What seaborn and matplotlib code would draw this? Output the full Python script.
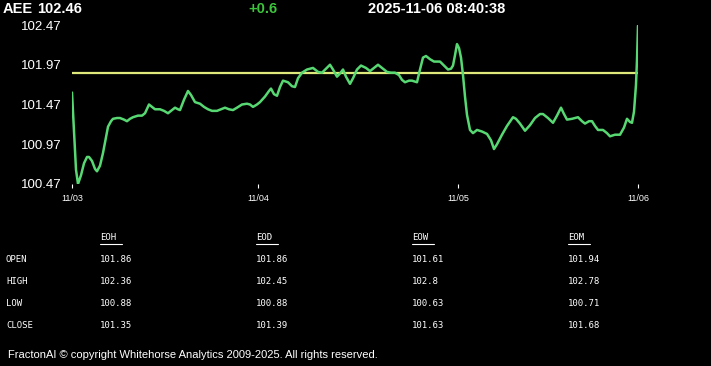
import matplotlib
matplotlib.use("Agg")
import matplotlib.pyplot as plt
import seaborn as sns
from matplotlib.lines import Line2D

# header
symbol = "AEE"
last_price = "102.46"
change = "+0.6"
stamp = "2025-11-06 08:40:38"

# price series (bar index, price)
bar = [0, 4, 6, 9, 12, 15, 17, 20, 23, 25, 28, 31, 34, 36, 39, 41, 45, 48, 52, 55,
       58, 61, 66, 70, 73, 77, 80, 83, 88, 92, 96, 100, 103, 106, 108, 112, 116, 119, 123, 128,
       132, 136, 140, 145, 149, 153, 157, 161, 165, 170, 175, 178, 181, 185, 188, 193, 197, 199, 202, 205,
       208, 211, 216, 220, 223, 226, 230, 235, 241, 246, 250, 254, 258, 261, 265, 268, 271, 274, 278, 281,
       285, 289, 294, 298, 302, 306, 310, 315, 319, 323, 327, 330, 333, 337, 340, 345, 348, 351, 354, 358,
       362, 365, 368, 372, 376, 379, 381, 383, 385, 387, 389, 391, 393, 395, 398, 401, 405, 410, 415, 419,
       422, 425, 430, 435, 441, 444, 448, 453, 458, 463, 468, 471, 476, 481, 485, 489, 492, 495, 500, 506,
       510, 513, 517, 520, 523, 526, 531, 535, 538, 543, 548, 552, 555, 558, 560, 562, 564, 565, 566]
price = [101.62, 100.65, 100.47, 100.58, 100.73, 100.81, 100.81, 100.76, 100.66, 100.63,
         100.70, 100.86, 101.06, 101.19, 101.26, 101.29, 101.30, 101.30, 101.28, 101.26,
         101.29, 101.31, 101.33, 101.33, 101.36, 101.47, 101.44, 101.41, 101.41, 101.39,
         101.36, 101.40, 101.43, 101.41, 101.40, 101.53, 101.64, 101.59, 101.50, 101.48,
         101.44, 101.41, 101.39, 101.39, 101.41, 101.43, 101.41, 101.40, 101.43, 101.47,
         101.48, 101.47, 101.44, 101.47, 101.50, 101.57, 101.64, 101.67, 101.60, 101.58,
         101.69, 101.77, 101.75, 101.70, 101.69, 101.80, 101.87, 101.91, 101.93, 101.88,
         101.87, 101.92, 101.97, 101.91, 101.82, 101.86, 101.91, 101.82, 101.73, 101.80,
         101.91, 101.96, 101.93, 101.89, 101.93, 101.97, 101.93, 101.88, 101.87, 101.87,
         101.84, 101.78, 101.75, 101.77, 101.77, 101.75, 101.91, 102.06, 102.08, 102.04,
         102.01, 102.01, 102.01, 101.96, 101.91, 101.92, 101.96, 102.09, 102.23, 102.18,
         102.06, 101.84, 101.57, 101.34, 101.15, 101.11, 101.15, 101.13, 101.10, 101.02,
         100.91, 100.97, 101.09, 101.20, 101.31, 101.29, 101.23, 101.14, 101.21, 101.30,
         101.35, 101.35, 101.30, 101.24, 101.33, 101.43, 101.35, 101.28, 101.29, 101.31,
         101.26, 101.23, 101.26, 101.26, 101.20, 101.15, 101.15, 101.11, 101.07, 101.09,
         101.09, 101.18, 101.29, 101.25, 101.24, 101.38, 101.72, 102.03, 102.46]

day_ticks = [0, 186, 386, 566]
day_labels = ["11/03", "11/04", "11/05", "11/06"]
y_ticks = [100.47, 100.97, 101.47, 101.97, 102.47]

# summary table
periods = ["EOH", "EOD", "EOW", "EOM"]
row_names = ["OPEN", "HIGH", "LOW", "CLOSE"]
open_vals = ["101.86", "101.86", "101.61", "101.94"]
high_vals = ["102.36", "102.45", "102.8", "102.78"]
low_vals = ["100.88", "100.88", "100.63", "100.71"]
close_vals = ["101.35", "101.39", "101.63", "101.68"]

sns.set_style("dark", {"axes.facecolor": "black", "figure.facecolor": "black"})
plt.rcParams["font.family"] = ["Liberation Sans", "DejaVu Sans"]

fig = plt.figure(figsize=(7.11, 3.66), dpi=100)
ax = fig.add_axes([72 / 711, 182 / 366, 566 / 711, 159 / 366])

sns.lineplot(x=bar, y=price, ax=ax, color="#57d873", linewidth=1.8)
ax.axhline(float(open_vals[0]), color="#dfe87a", linewidth=1.6, zorder=1)

ax.set_xlim(0, 566)
ax.set_ylim(100.47, 102.47)
ax.set_xticks(day_ticks)
ax.set_xticklabels(day_labels, fontsize=6.5, color="white")
ax.set_yticks(y_ticks)
ax.set_yticklabels([f"{v:.2f}" for v in y_ticks], fontsize=9.5, color="white")
ax.tick_params(axis="x", bottom=True, length=3, width=0.8, color="white", pad=4.5)
ax.tick_params(axis="y", left=False, pad=4)
ax.grid(False)
for s in ax.spines.values():
    s.set_visible(False)
ax.set_xlabel("")
ax.set_ylabel("")

# header line
fig.text(3 / 711, 1 - 9 / 366, symbol, color="white", fontsize=10.5, fontweight="bold", va="center")
fig.text(37 / 711, 1 - 9 / 366, last_price, color="white", fontsize=10.5, fontweight="bold", va="center")
fig.text(248 / 711, 1 - 9 / 366, change, color="#3cc43c", fontsize=10.5, fontweight="bold", va="center")
fig.text(368 / 711, 1 - 9 / 366, stamp, color="white", fontsize=10.5, fontweight="bold", va="center")

# table
col_x = [100, 256, 412, 568]
row_y = [259, 281, 303, 325]
mono = dict(family="DejaVu Sans Mono", fontsize=6.5, color="white", va="center")
for cx, name in zip(col_x, periods):
    fig.text(cx / 711, 1 - 238 / 366, name, **mono)
    fig.add_artist(Line2D([cx / 711, (cx + 22) / 711], [1 - 244 / 366] * 2, color="white", linewidth=0.8))
for ry, name, vals in zip(row_y, row_names, [open_vals, high_vals, low_vals, close_vals]):
    fig.text(6 / 711, 1 - ry / 366, name, **mono)
    for cx, v in zip(col_x, vals):
        fig.text(cx / 711, 1 - ry / 366, v, **mono)

fig.text(8 / 711, 1 - 355 / 366, "FractonAI \u00a9 copyright Whitehorse Analytics 2009-2025. All rights reserved.",
         color="white", fontsize=8, va="center")

fig.savefig("out.png", dpi=100, facecolor="black")
